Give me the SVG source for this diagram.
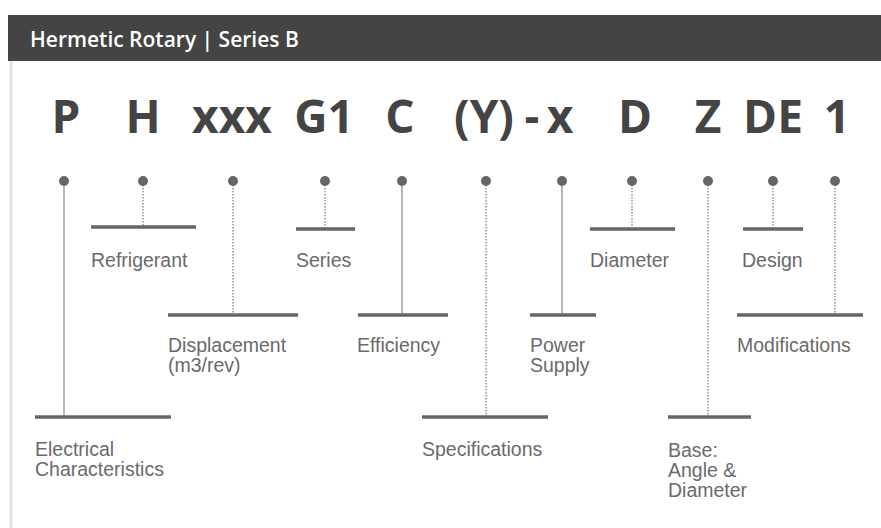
<svg xmlns="http://www.w3.org/2000/svg" width="881" height="528" viewBox="0 0 881 528">
<style>
.code{font-family:"Open Sans","Liberation Sans",sans-serif;font-weight:700;font-size:46px;fill:#444;text-anchor:middle}
.lbl{font-family:"Liberation Sans",Arial,sans-serif;font-size:19.5px;fill:#6a6a6a}
.bar{stroke:#666;stroke-width:3.5}
.dot{fill:#666}
.dotted{stroke:#777;stroke-width:1.2;stroke-dasharray:1.5 1.5}
.solid{stroke:#999;stroke-width:1.4}
</style>
<rect width="881" height="528" fill="#fff"/>
<g id="header">
<rect x="8" y="15" width="873" height="46" fill="#444"/>
<text x="30" y="47" font-family="'Open Sans','Liberation Sans',sans-serif" font-weight="600" font-size="21" fill="#fff">Hermetic Rotary | Series B</text>
</g>
<line x1="11" y1="61" x2="11" y2="528" stroke="#e2e2e2" stroke-width="3"/>
<g id="code">
<text class="code" x="66" y="133">P</text>
<text class="code" x="143" y="133">H</text>
<text class="code" x="232" y="133">xxx</text>
<text class="code" x="324" y="133">G1</text>
<text class="code" x="400" y="133">C</text>
<text class="code" x="484" y="133">(Y)</text>
<text class="code" x="532" y="133">-</text>
<text class="code" x="560" y="133">x</text>
<text class="code" x="635" y="133">D</text>
<text class="code" x="708" y="133">Z</text>
<text class="code" x="773" y="133">DE</text>
<text class="code" x="837" y="133">1</text>
</g>
<g id="connectors">
<line class="solid" x1="64" y1="182" x2="64" y2="417"/>
<line class="dotted" x1="143" y1="182" x2="143" y2="227"/>
<line class="dotted" x1="233" y1="182" x2="233" y2="315"/>
<line class="dotted" x1="325" y1="182" x2="325" y2="229"/>
<line class="solid" x1="402" y1="182" x2="402" y2="315"/>
<line class="dotted" x1="486" y1="182" x2="486" y2="417"/>
<line class="solid" x1="562" y1="182" x2="562" y2="315"/>
<line class="dotted" x1="632" y1="182" x2="632" y2="229" stroke="#999"/>
<line class="dotted" x1="708" y1="182" x2="708" y2="417"/>
<line class="dotted" x1="773" y1="182" x2="773" y2="229"/>
<line class="dotted" x1="835" y1="182" x2="835" y2="315" stroke="#999"/>
</g>
<g id="electrical">
<circle class="dot" cx="64" cy="181" r="5"/>
<line class="bar" x1="35" y1="417" x2="171" y2="417"/>
<text class="lbl" x="35" y="456">Electrical</text>
<text class="lbl" x="35" y="476">Characteristics</text>
</g>
<g id="refrigerant">
<circle class="dot" cx="143" cy="181" r="5"/>
<line class="bar" x1="91" y1="227" x2="196" y2="227"/>
<text class="lbl" x="91" y="267">Refrigerant</text>
</g>
<g id="displacement">
<circle class="dot" cx="233" cy="181" r="5"/>
<line class="bar" x1="168" y1="315" x2="298" y2="315"/>
<text class="lbl" x="168" y="352">Displacement</text>
<text class="lbl" x="168" y="372">(m3/rev)</text>
</g>
<g id="series">
<circle class="dot" cx="325" cy="181" r="5"/>
<line class="bar" x1="296" y1="229" x2="355" y2="229"/>
<text class="lbl" x="296" y="267">Series</text>
</g>
<g id="efficiency">
<circle class="dot" cx="402" cy="181" r="5"/>
<line class="bar" x1="358" y1="315" x2="448" y2="315"/>
<text class="lbl" x="357" y="352">Efficiency</text>
</g>
<g id="specifications">
<circle class="dot" cx="486" cy="181" r="5"/>
<line class="bar" x1="422" y1="417" x2="548" y2="417"/>
<text class="lbl" x="422" y="456">Specifications</text>
</g>
<g id="power">
<circle class="dot" cx="562" cy="181" r="5"/>
<line class="bar" x1="530" y1="315" x2="596" y2="315"/>
<text class="lbl" x="530" y="352">Power</text>
<text class="lbl" x="530" y="372">Supply</text>
</g>
<g id="diameter">
<circle class="dot" cx="632" cy="181" r="5"/>
<line class="bar" x1="590" y1="229" x2="675" y2="229"/>
<text class="lbl" x="590" y="267">Diameter</text>
</g>
<g id="base">
<circle class="dot" cx="708" cy="181" r="5"/>
<line class="bar" x1="668" y1="417" x2="751" y2="417"/>
<text class="lbl" x="668" y="457">Base:</text>
<text class="lbl" x="668" y="477">Angle &amp;</text>
<text class="lbl" x="668" y="497">Diameter</text>
</g>
<g id="design">
<circle class="dot" cx="773" cy="181" r="5"/>
<line class="bar" x1="743" y1="229" x2="803" y2="229"/>
<text class="lbl" x="742" y="267">Design</text>
</g>
<g id="modifications">
<circle class="dot" cx="835" cy="181" r="5"/>
<line class="bar" x1="737" y1="315" x2="863" y2="315"/>
<text class="lbl" x="737" y="352">Modifications</text>
</g>
</svg>
